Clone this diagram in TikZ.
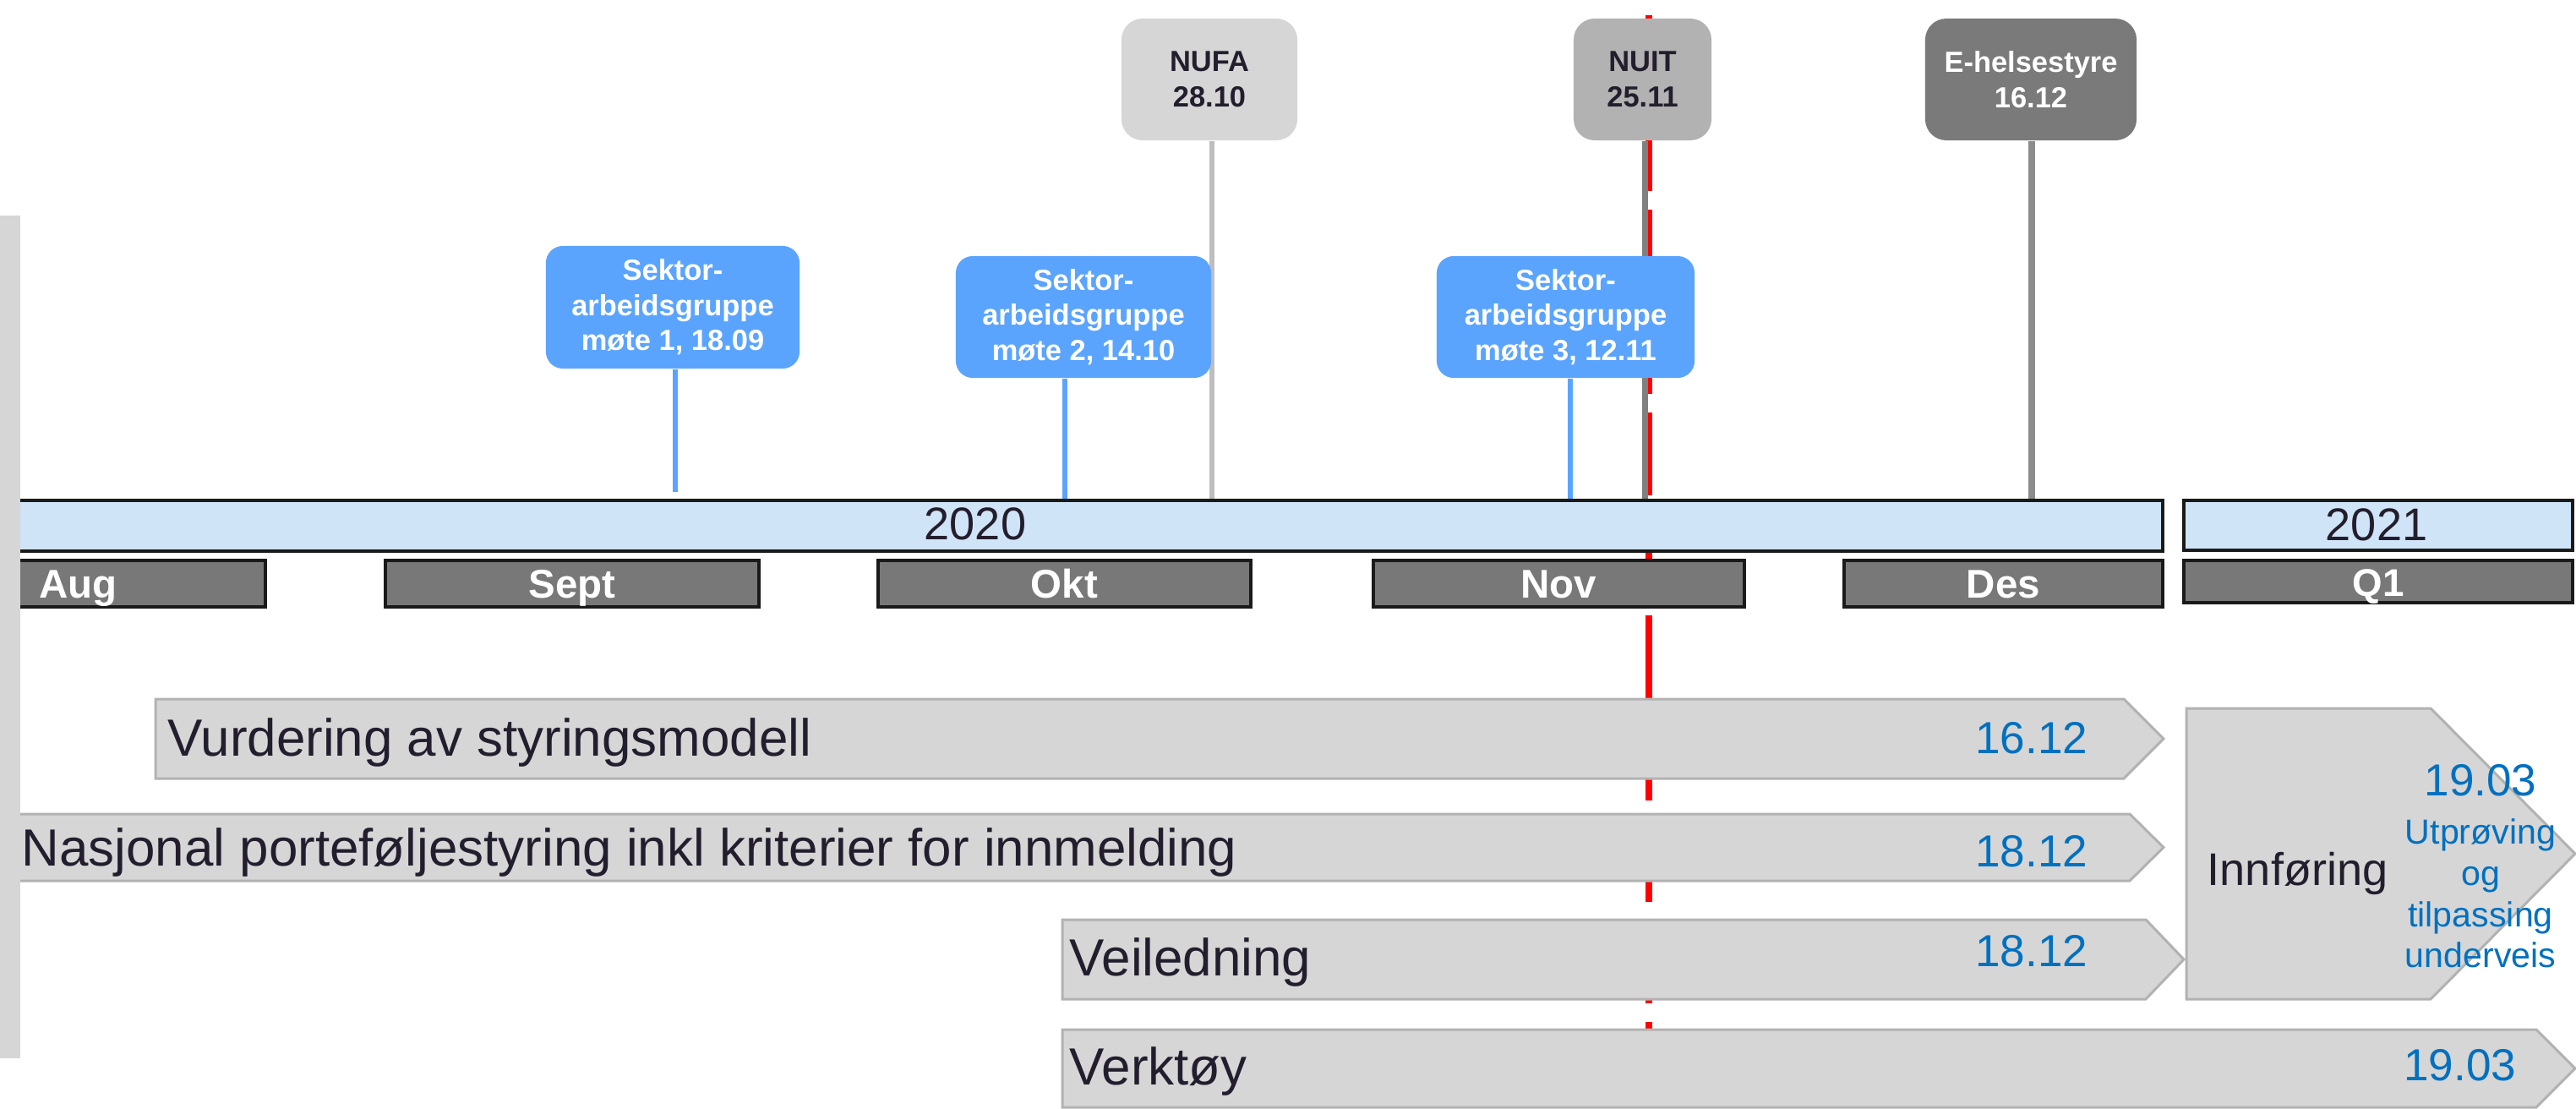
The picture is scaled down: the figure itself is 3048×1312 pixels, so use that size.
\documentclass[tikz,border=0pt]{standalone}
\usepackage{fontspec}
\setmainfont{Liberation Sans}
\newcommand\setfs[2]{\fontsize{#1}{#2}\selectfont}
\definecolor{sblue}{RGB}{91,164,254}
\definecolor{nufafill}{RGB}{214,214,214}
\definecolor{nuitfill}{RGB}{178,178,178}
\definecolor{ehfill}{RGB}{122,122,122}
\definecolor{nufastem}{RGB}{190,190,190}
\definecolor{nuitstem}{RGB}{128,128,128}
\definecolor{ehstem}{RGB}{140,140,140}
\definecolor{monthgray}{RGB}{120,120,120}
\definecolor{framedark}{RGB}{26,26,26}
\definecolor{yearblue}{RGB}{208,228,247}
\definecolor{taskgray}{RGB}{214,214,214}
\definecolor{taskedge}{RGB}{178,178,178}
\definecolor{leftgray}{RGB}{214,214,214}
\definecolor{darktext}{RGB}{35,30,45}
\definecolor{dueblue}{RGB}{0,112,192}
\definecolor{nowred}{RGB}{255,0,0}
\pgfdeclarelayer{background}
\pgfsetlayers{background,main}
\begin{document}
\begin{tikzpicture}[x=0.01cm,y=-0.01cm,
  sektor/.style={fill=sblue, rounded corners=0.2cm, text=white,
    font=\setfs{9.8}{11.8}\bfseries, align=center, inner sep=0pt,
    minimum height=1.44cm},
  meeting/.style={rounded corners=0.25cm, font=\setfs{9.8}{11.8}\bfseries,
    align=center, inner sep=0pt, minimum height=1.44cm},
  stem/.style={line width=0.06cm},
  month/.style={fill=monthgray, draw=framedark, line width=0.035cm, text=white,
    font=\setfs{13.5}{16}\bfseries, minimum height=0.55cm, inner sep=0pt,
    text height=0.34cm, text depth=0cm},
  yearbar/.style={fill=yearblue, draw=framedark, line width=0.035cm},
  yeartext/.style={text=darktext, font=\setfs{15.4}{18}, inner sep=0pt},
  task/.style={fill=taskgray, draw=taskedge, line width=0.03cm},
  tasktext/.style={text=darktext, font=\setfs{17.6}{21}, inner sep=0pt},
  due/.style={text=dueblue, font=\setfs{15.1}{18}, inner sep=0pt},
]
\useasboundingbox (0,0) rectangle (3048,1312);

% meeting boxes
\node[meeting, fill=nufafill, text=darktext, minimum width=2.08cm] (nufa) at (1431,94) {NUFA\\28.10};
\node[meeting, fill=nuitfill, text=darktext, minimum width=1.63cm] (nuit) at (1943.5,94) {NUIT\\25.11};
\node[meeting, fill=ehfill, text=white, minimum width=2.50cm] (ehs) at (2403,94) {E-helsestyre\\16.12};

\node[sektor, minimum width=3.00cm, minimum height=1.45cm] (s1) at (796,363.5) {Sektor-\\arbeidsgruppe\\møte 1, 18.09};
\node[sektor, minimum width=3.02cm] (s2) at (1282,375) {Sektor-\\arbeidsgruppe\\møte 2, 14.10};
\node[sektor, minimum width=3.05cm] (s3) at (1852.5,375) {Sektor-\\arbeidsgruppe\\møte 3, 12.11};

% stem feet on the time line
\coordinate (f1) at (799,582);
\coordinate (f2) at (1260,592);
\coordinate (f3) at (1858,592);
\coordinate (fnufa) at (1434,592);
\coordinate (fnuit) at (1946.5,592);
\coordinate (feh) at (2404,592);
\coordinate (redtop) at (1951,18);
\coordinate (redbot) at (1951,1300);

\begin{pgfonlayer}{background}
  % today marker (dashed red)
  \draw[nowred, line width=0.08cm, dash pattern=on 0.98cm off 0.22cm, dash phase=0.1cm]
    (redtop) -- (redbot);
  % stems
  \draw[stem, sblue] (f1 |- s1.south) -- (f1);
  \draw[stem, sblue] (f2 |- s2.south) -- (f2);
  \draw[stem, sblue] (f3 |- s3.south) -- (f3);
  \draw[stem, nufastem] (fnufa |- nufa.south) -- (fnufa);
  \draw[stem, nuitstem, line width=0.07cm] (fnuit |- nuit.south) -- (fnuit);
  \draw[stem, ehstem, line width=0.08cm] (feh |- ehs.south) -- (feh);
\end{pgfonlayer}

% year bars
\path[yearbar] (10,592) rectangle (2559,652);
\path[yearbar] (2584,592) rectangle (3044,651);
\node[yeartext, anchor=base] (y2020) at (1154,638) {2020};
\node[yeartext, anchor=base] (y2021) at (2812,639) {2021};

% months
\node[month, minimum width=3.04cm] (aug) at (162,690.5) {};
\node[text=white, font=\setfs{13.5}{16}\bfseries, inner sep=0pt, anchor=base west] (augt) at (46,707.5) {Aug};
\node[month, minimum width=4.42cm] (sep) at (677,690.5) {Sept};
\node[month, minimum width=4.41cm] (okt) at (1259.5,690.5) {Okt};
\node[month, minimum width=4.39cm] (nov) at (1844.5,690.5) {Nov};
\node[month, minimum width=3.77cm] (des) at (2370.5,690.5) {Des};
\node[month, minimum width=4.60cm, minimum height=0.50cm, font=\setfs{13}{16}\bfseries] (q1) at (2814,688) {Q1};

% work streams
\path[task] (184,827) -- (2513,827) -- (2560,874) -- (2513,921) -- (184,921) -- cycle;
\node[tasktext, anchor=base west] (vur) at (198,894) {Vurdering av styringsmodell};
\node[due, anchor=base east] (vurd) at (2471,891) {16.12};

\path[task] (10,963) -- (2520,963) -- (2560,1002.5) -- (2520,1042) -- (10,1042) -- cycle;
\node[tasktext, anchor=base west] (nas) at (25,1024) {Nasjonal porteføljestyring inkl kriterier for innmelding};
\node[due, anchor=base east] (nasd) at (2471,1025) {18.12};

\path[task] (1257,1088) -- (2539,1088) -- (2584,1135) -- (2539,1182) -- (1257,1182) -- cycle;
\node[tasktext, anchor=base west] (vei) at (1265,1154) {Veiledning};
\node[due, anchor=base east] (veid) at (2471,1143) {18.12};

\path[task] (1257,1218) -- (3001,1218) -- (3047,1264) -- (3001,1310) -- (1257,1310) -- cycle;
\node[tasktext, anchor=base west] (ver) at (1265,1283) {Verktøy};
\node[due, anchor=base east] (verd) at (2978,1278) {19.03};

\path[task] (2587,838) -- (2876,838) -- (3047,1010) -- (2876,1182) -- (2587,1182) -- cycle;
\node[text=darktext, font=\setfs{15.4}{18}, inner sep=0pt, anchor=base west] (inn) at (2611,1047) {Innføring};
\node[due, anchor=base] (innd) at (2935,941) {19.03};
\node[text=dueblue, font=\setfs{11.7}{13.85}, inner sep=0pt, align=center] (innt) at (2935,1057)
  {Utprøving\\og\\tilpassing\\underveis};

% left margin strip
\fill[leftgray] (0,255) rectangle (24,1252);
\end{tikzpicture}
\end{document}
